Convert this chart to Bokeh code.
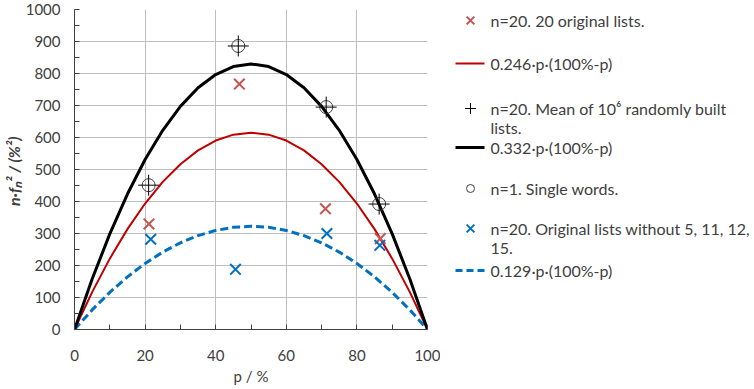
from bokeh.plotting import figure
from bokeh.layouts import row
from bokeh.models import Range1d, SingleIntervalTicker
from bokeh.core.properties import value
from bokeh.embed import file_html
from bokeh.resources import INLINE

# ---------------- data ----------------
# measured points (p in %, n*f^2 in %^2)
orig_p = [21.1, 46.7, 71.1, 86.6]
orig_v = [330, 767, 377, 284]

mean_p = [21.0, 46.4, 71.3, 86.3]
mean_v = [451, 886, 695, 392]

single_p = [21.0, 46.4, 71.3, 86.3]
single_v = [451, 886, 695, 392]

sub_p = [21.6, 45.6, 71.5, 86.5]
sub_v = [282, 188, 300, 263]

# fitted curves sampled every 5 %
curve_p = [0, 5, 10, 15, 20, 25, 30, 35, 40, 45, 50, 55, 60, 65, 70, 75, 80, 85, 90, 95, 100]
fit_red = [0, 116.9, 221.4, 313.7, 393.6, 461.3, 516.6, 559.7, 590.4, 608.9, 615.0,
           608.9, 590.4, 559.7, 516.6, 461.3, 393.6, 313.7, 221.4, 116.9, 0]
fit_black = [0, 157.7, 298.8, 423.3, 531.2, 622.5, 697.2, 755.3, 796.8, 821.7, 830.0,
             821.7, 796.8, 755.3, 697.2, 622.5, 531.2, 423.3, 298.8, 157.7, 0]
fit_blue = [0, 61.3, 116.1, 164.5, 206.4, 241.9, 270.9, 293.5, 309.6, 319.3, 322.5,
            319.3, 309.6, 293.5, 270.9, 241.9, 206.4, 164.5, 116.1, 61.3, 0]

legend_lines = [
    "n=20. 20 original lists.",
    "0.246·p·(100%-p)",
    "n=20. Mean of 10⁶ randomly built",
    "lists.",
    "0.332·p·(100%-p)",
    "n=1. Single words.",
    "n=20. Original lists without 5, 11, 12,",
    "15.",
    "0.129·p·(100%-p)",
]

FONT = "Lato"
TXT = "#404040"
RED_M = "#C8524F"
RED_L = "#C00000"
BLUE = "#0070C0"
GRID = "#BFBFBF"

W_MAIN, W_LEG, H = 440, 314, 389
B_TOP, B_BOT = 9, 60

# ---------------- main plot ----------------
p = figure(width=W_MAIN, height=H, x_range=Range1d(0, 100), y_range=Range1d(0, 1000),
           output_backend="svg", toolbar_location=None,
           min_border_left=74, min_border_right=13, min_border_top=B_TOP, min_border_bottom=B_BOT)
p.outline_line_color = None
p.background_fill_color = "white"
p.border_fill_color = "white"

p.xaxis.ticker = SingleIntervalTicker(interval=20, num_minor_ticks=2)
p.yaxis.ticker = SingleIntervalTicker(interval=100, num_minor_ticks=2)
p.xgrid.ticker = SingleIntervalTicker(interval=20)
p.ygrid.ticker = SingleIntervalTicker(interval=100)
for g in (p.xgrid, p.ygrid):
    g.grid_line_color = GRID
    g.grid_line_width = 1

for ax in (p.xaxis, p.yaxis):
    ax.axis_line_color = "#404040"
    ax.axis_line_width = 1
    ax.major_tick_line_color = None
    ax.major_tick_in = 0
    ax.major_tick_out = 0
    ax.minor_tick_line_color = "#404040"
    ax.minor_tick_in = 5
    ax.minor_tick_out = 0
    ax.major_label_text_font = FONT
    ax.major_label_text_font_size = "15px"
    ax.major_label_text_color = TXT
    ax.axis_label_text_font = FONT
    ax.axis_label_text_color = TXT

p.yaxis.major_label_standoff = 14
p.xaxis.major_label_standoff = 20
p.yaxis.axis_label = "n·fₙ²  / (%²)"
p.yaxis.axis_label_text_font_size = "16px"
p.yaxis.axis_label_text_font_style = "bold italic"
p.yaxis.axis_label_standoff = 0
p.xaxis.axis_label = "p / %"
p.xaxis.axis_label_text_font_size = "15px"
p.xaxis.axis_label_text_font_style = "normal"
p.xaxis.axis_label_standoff = 3

p.line(curve_p, fit_blue, line_color=BLUE, line_width=3, line_dash="8 4")
p.line(curve_p, fit_red, line_color=RED_L, line_width=2)
p.line(curve_p, fit_black, line_color="black", line_width=3)

p.scatter(orig_p, orig_v, marker="x", size=15, line_color=RED_M, line_width=2)
p.scatter(sub_p, sub_v, marker="x", size=15, line_color=BLUE, line_width=2)
p.scatter(single_p, single_v, marker="circle", size=13, fill_color=None,
          line_color="#404040", line_width=1)
p.scatter(mean_p, mean_v, marker="cross", size=21, line_color="black", line_width=1)

# ---------------- legend panel (coordinates = page pixels) ----------------
leg = figure(width=W_LEG, height=H, x_range=Range1d(W_MAIN, W_MAIN + W_LEG),
             y_range=Range1d(H - B_BOT, B_TOP),
             output_backend="svg", toolbar_location=None,
             x_axis_type=None, y_axis_type=None,
             min_border_left=0, min_border_right=0, min_border_top=B_TOP, min_border_bottom=B_BOT)
leg.outline_line_color = None
leg.grid.visible = False

# layout positions of the legend rows
row_y = [20, 63, 108, 127, 147, 188, 228, 248, 270]
mk_x = 470
ln_x0, ln_x1 = 455, 484
txt_x = 490

leg.scatter([mk_x], [row_y[0]], marker="x", size=11, line_color=RED_M, line_width=2)
leg.segment([ln_x0], [row_y[1]], [ln_x1], [row_y[1]], line_color=RED_L, line_width=2)
leg.scatter([mk_x], [row_y[2]], marker="cross", size=11, line_color="black", line_width=1)
leg.segment([ln_x0], [row_y[4]], [ln_x1], [row_y[4]], line_color="black", line_width=3)
leg.scatter([mk_x], [row_y[5]], marker="circle", size=8, fill_color=None,
            line_color="#404040", line_width=1)
leg.scatter([mk_x], [row_y[6]], marker="x", size=11, line_color=BLUE, line_width=2)
leg.segment([ln_x0], [row_y[8]], [ln_x1], [row_y[8]], line_color=BLUE, line_width=3,
            line_dash="7 4")

leg.text(x=[txt_x] * len(legend_lines), y=row_y, text=legend_lines,
         text_font=value(FONT), text_font_size="16px", text_color=TXT,
         text_baseline="middle", text_align="left")

layout = row(p, leg)
open("out.html", "w").write(file_html(layout, INLINE))
